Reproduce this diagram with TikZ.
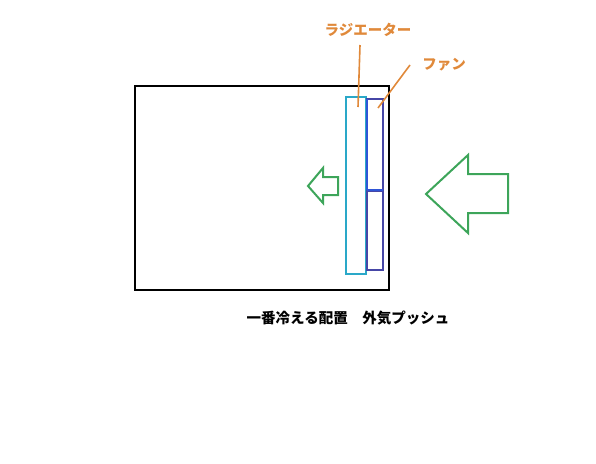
\documentclass[tikz,border=0pt]{standalone}
\usepackage{fontspec}
\newfontfamily\jpfont{Noto Sans CJK JP}
\usepackage{tikz}
\usetikzlibrary{positioning}
\usepackage{xcolor}
\definecolor{labelorange}{HTML}{E0893A}
\definecolor{radcyan}{HTML}{2AA8C8}
\definecolor{fanblue}{HTML}{4646A6}
\definecolor{fanedge}{HTML}{2F55D6}
\definecolor{airgreen}{HTML}{3DA55A}

\begin{document}
\begin{tikzpicture}[x=1pt, y=-1pt,
  label/.style={text=labelorange, font=\jpfont\bfseries\fontsize{14.5}{16}\selectfont, inner sep=0pt},
  leader/.style={draw=labelorange, line width=1.6pt},
  airflow/.style={draw=airgreen, line width=2pt, line join=miter}]
\useasboundingbox (0,0) rectangle (596,463);
%
% case
\draw[line width=2pt] (135,86) rectangle (389,290);
% radiator and fan
\draw[radcyan, line width=1.8pt] (346,97) rectangle (366,274);
\draw[fanblue, line width=1.6pt] (367,99) rectangle (383,190);
\draw[fanblue, line width=1.6pt] (367,191) rectangle (383,270);
\draw[fanedge, line width=2pt] (367,99) -- (367,190);
\draw[fanedge, line width=2.8pt] (367,190) -- (383,190);
%
% labels
\node[label] (rad) at (368,30) {ラジエーター};
\node[label] (fan) at (444,65) {ファン};
\coordinate (radend) at (358,107);
\coordinate (fanend) at (378,108);
\draw[leader] (360,45) -- (radend);
\draw[leader] (410,65) -- (fanend);
%
% air flow
\draw[airflow] (308,186) -- (323,168) -- (323,177) -- (338,177)
  -- (338,195) -- (323,195) -- (323,203) -- cycle;
\draw[airflow] (426,194) -- (468,155) -- (468,174) -- (508,174)
  -- (508,213) -- (468,213) -- (468,233) -- cycle;
%
\node[font=\jpfont\bfseries\fontsize{14.5}{16}\selectfont, inner sep=0pt] (title) at (348,318) {一番冷える配置　外気プッシュ};
\end{tikzpicture}
\end{document}
